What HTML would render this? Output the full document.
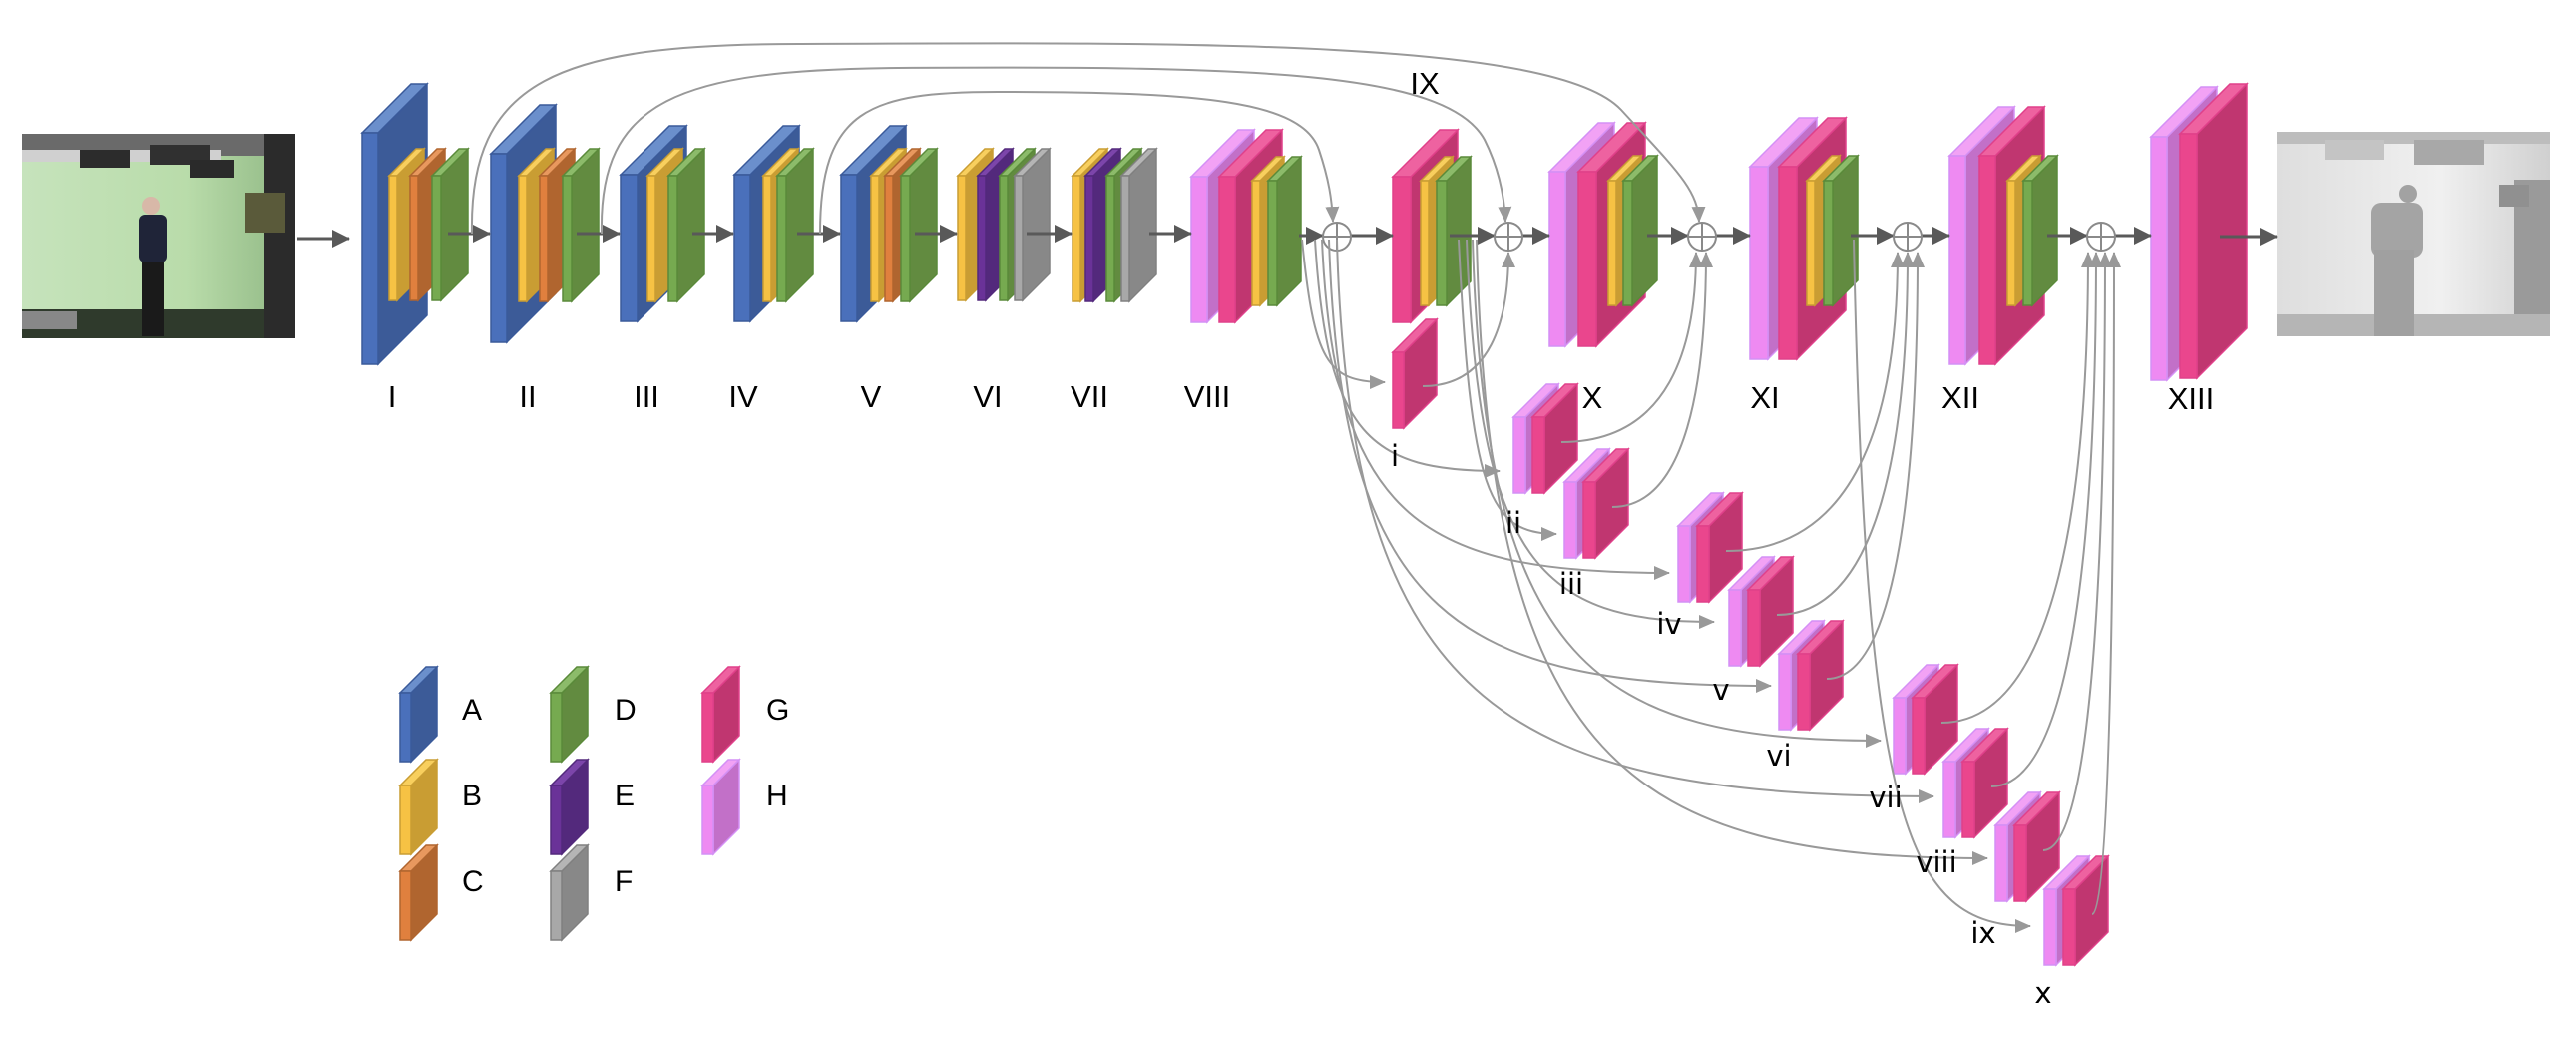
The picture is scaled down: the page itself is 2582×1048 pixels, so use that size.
<!DOCTYPE html>
<html><head><meta charset="utf-8">
<style>
html,body{margin:0;padding:0;background:#fff;}
svg{display:block;}
.L{font-family:"Liberation Sans Narrow","Liberation Sans",sans-serif;font-size:31px;fill:#000;text-anchor:middle;}
.s{font-family:"DejaVu Sans","Liberation Sans",sans-serif;font-size:29px;fill:#000;text-anchor:middle;}
.g{font-family:"Liberation Sans",sans-serif;font-size:30px;fill:#000;}
</style></head>
<body>
<svg id="sv" width="2582" height="1048" viewBox="0 0 2582 1048" xmlns="http://www.w3.org/2000/svg">
<defs>
<marker id="ga" markerUnits="userSpaceOnUse" markerWidth="16" markerHeight="14" refX="15" refY="7" orient="auto"><path d="M0,0 L16,7 L0,14 Z" fill="#999"/></marker>
<marker id="da" markerUnits="userSpaceOnUse" markerWidth="18" markerHeight="18" refX="17" refY="9" orient="auto"><path d="M0,0 L18,9 L0,18 Z" fill="#595959"/></marker>
<linearGradient id="outg" x1="0" y1="0" x2="1" y2="0"><stop offset="0" stop-color="#dedede"/><stop offset="0.6" stop-color="#f0f0f0"/><stop offset="1" stop-color="#d0d0d0"/></linearGradient>
<linearGradient id="ing" x1="0" y1="0" x2="1" y2="0"><stop offset="0" stop-color="#c6e3bc"/><stop offset="0.6" stop-color="#b9dcaa"/><stop offset="1" stop-color="#8fb783"/></linearGradient>
</defs>

<!-- input image -->
<g>
<rect x="22" y="134" width="274" height="205" fill="url(#ing)"/>
<rect x="22" y="134" width="274" height="22" fill="#6a6a6a"/>
<rect x="22" y="150" width="200" height="12" fill="#d0d0d0"/>
<rect x="80" y="150" width="50" height="18" fill="#2c2c2c"/>
<rect x="150" y="145" width="60" height="20" fill="#303030"/>
<rect x="190" y="160" width="45" height="18" fill="#2a2a2a"/>
<rect x="22" y="310" width="274" height="29" fill="#2f3a2c"/>
<rect x="265" y="134" width="31" height="205" fill="#2b2b2b"/>
<rect x="246" y="193" width="40" height="40" fill="#5a5a3a"/>
<circle cx="151" cy="206" r="9" fill="#d8b8a8"/>
<rect x="139" y="215" width="28" height="48" rx="6" fill="#1f2438"/>
<rect x="142" y="262" width="22" height="75" fill="#1a1a1a"/>
<rect x="22" y="312" width="55" height="18" fill="#888"/>
</g>
<!-- output image -->
<g>
<rect x="2282" y="132" width="274" height="205" fill="url(#outg)"/>
<rect x="2282" y="132" width="274" height="12" fill="#bdbdbd"/>
<rect x="2330" y="140" width="60" height="20" fill="#c4c4c4"/>
<rect x="2420" y="140" width="70" height="25" fill="#a8a8a8"/>
<rect x="2520" y="180" width="36" height="157" fill="#9a9a9a"/>
<rect x="2505" y="185" width="30" height="22" fill="#909090"/>
<rect x="2282" y="315" width="274" height="22" fill="#b5b5b5"/>
<circle cx="2414" cy="194" r="9" fill="#a2a2a2"/>
<rect x="2377" y="203" width="52" height="55" rx="10" fill="#a4a4a4"/>
<rect x="2380" y="250" width="40" height="87" fill="#a0a0a0"/>
</g>

<g id="shapes"></g>

<!-- main arrows -->
<g stroke="#595959" stroke-width="3" fill="none" marker-end="url(#da)">
<line x1="298" y1="239" x2="350" y2="239"/>
<line x1="449" y1="234" x2="491" y2="234"/>
<line x1="578" y1="234" x2="621" y2="234"/>
<line x1="694" y1="234" x2="735" y2="234"/>
<line x1="799" y1="234" x2="842" y2="234"/>
<line x1="917" y1="234" x2="959" y2="234"/>
<line x1="1029" y1="234" x2="1074" y2="234"/>
<line x1="1152" y1="234" x2="1194" y2="234"/>
<line x1="1302" y1="236" x2="1326" y2="236"/>
<line x1="1354" y1="236" x2="1396" y2="236"/>
<line x1="1453" y1="236" x2="1498" y2="236"/>
<line x1="1526" y1="236" x2="1553" y2="236"/>
<line x1="1651" y1="236" x2="1692" y2="236"/>
<line x1="1720" y1="236" x2="1754" y2="236"/>
<line x1="1855" y1="236" x2="1898" y2="236"/>
<line x1="1926" y1="236" x2="1954" y2="236"/>
<line x1="2052" y1="236" x2="2092" y2="236"/>
<line x1="2120" y1="236" x2="2156" y2="236"/>
<line x1="2225" y1="237" x2="2282" y2="237"/>
</g>

<!-- circles -->
<g stroke="#8a8a8a" stroke-width="2" fill="#fff">
<circle cx="1340" cy="237" r="14"/><path d="M1326,237H1354M1340,223V251"/>
<circle cx="1512" cy="237" r="14"/><path d="M1498,237H1526M1512,223V251"/>
<circle cx="1706" cy="237" r="14"/><path d="M1692,237H1720M1706,223V251"/>
<circle cx="1912" cy="237" r="14"/><path d="M1898,237H1926M1912,223V251"/>
<circle cx="2106" cy="237" r="14"/><path d="M2092,237H2120M2106,223V251"/>
</g>

<!-- skip curves -->
<g stroke="#999" stroke-width="2" fill="none" marker-end="url(#ga)">
<path d="M473,234 C470,80 560,44 800,44 C1200,42 1560,40 1625,110 C1680,170 1702,190 1703,222"/>
<path d="M603,234 C600,100 680,70 900,68 C1250,66 1450,70 1488,140 C1503,170 1508,200 1509,222"/>
<path d="M822,234 C822,110 870,92 1000,92 C1200,92 1305,100 1322,150 C1332,180 1335,200 1336,222"/>
</g>
<g id="curves" stroke="#999" stroke-width="2" fill="none"></g>

<!-- labels -->
<g class="L">
<text x="393" y="408">I</text><text x="529" y="408">II</text><text x="648" y="408">III</text>
<text x="745" y="408">IV</text><text x="873" y="408">V</text><text x="990" y="408">VI</text>
<text x="1092" y="408">VII</text><text x="1210" y="408">VIII</text>
<text x="1428" y="94">IX</text><text x="1596" y="409">X</text><text x="1769" y="409">XI</text>
<text x="1965" y="409">XII</text><text x="2196" y="410">XIII</text>
</g>
<g class="s">
<text x="1398" y="467">i</text><text x="1517" y="534">ii</text><text x="1575" y="595">iii</text>
<text x="1673" y="635">iv</text><text x="1725" y="701">v</text><text x="1783" y="767">vi</text>
<text x="1890" y="809">vii</text><text x="1941" y="874">viii</text><text x="1988" y="945">ix</text>
<text x="2048" y="1005">x</text>
</g>
<g class="g">
<text x="463" y="721">A</text><text x="463" y="807">B</text><text x="463" y="893">C</text>
<text x="616" y="721">D</text><text x="616" y="807">E</text><text x="616" y="893">F</text>
<text x="768" y="721">G</text><text x="768" y="807">H</text>
</g>
</svg>
<script>
var C={
 A:["#4a70bb","#3c5b98","#6b8fcc","#3a5a9a"],
 B:["#f6c244","#c99d33","#f8cf5e","#c99d33"],
 C:["#e0803e","#b0652f","#e8985e","#b0652f"],
 D:["#76aa50","#628b40","#8cbb6a","#5a8a3a"],
 E:["#6a3298","#53297c","#7c45aa","#53297c"],
 F:["#a8a8a8","#888888","#b5b5b5","#808080"],
 G:["#ea468d","#c03670","#ee62a0","#e0408a"],
 H:["#ee8af2","#c270c8","#f2a2f5","#d490f5"]};
var NS="http://www.w3.org/2000/svg",sh=document.getElementById("shapes"),cv=document.getElementById("curves");
function el(p,t,a){var e=document.createElementNS(NS,t);for(var k in a)e.setAttribute(k,a[k]);p.appendChild(e);return e;}
function S(c,x,y,w,h,d){var k=C[c];
 el(sh,"polygon",{points:[x+w,y,x+w+d,y-d,x+w+d,y+h-d,x+w,y+h].join(","),fill:k[1],stroke:k[3],"stroke-width":1.5});
 el(sh,"polygon",{points:[x,y,x+d,y-d,x+w+d,y-d,x+w,y].join(","),fill:k[2],stroke:k[3],"stroke-width":1.5});
 el(sh,"rect",{x:x,y:y,width:w,height:h,fill:k[0],stroke:k[3],"stroke-width":1.5});}
function T(list,y,h,d){list.forEach(function(a){S(a[0],a[1],y,a[2]||8,h,d);});}
S("A",363,133,16,232,49);T([["B",390],["C",411],["D",433,9]],176,125,27);
S("A",492,154,16,189,49);T([["B",520],["C",541],["D",564,9]],176,126,27);
S("A",622,175,17,147,49);T([["B",649],["D",670,9]],176,126,27);
S("A",736,175,16,147,49);T([["B",765],["D",779,9]],176,126,27);
S("A",843,175,16,147,49);T([["B",873],["C",887],["D",903,9]],176,126,27);
T([["B",960],["E",980],["D",1002],["F",1017]],176,125,27);
T([["B",1075],["E",1088],["D",1109],["F",1124]],176,126,27);
S("H",1194,177,16,146,47);S("G",1222,177,16,146,47);T([["B",1255],["D",1271,9]],181,125,24);
S("G",1396,177,18,146,47);T([["B",1424],["D",1440,10]],181,125,24);
S("H",1553,172,16,175,49);S("G",1582,172,18,175,49);T([["B",1612],["D",1627,9]],181,125,25);
S("H",1754,167,18,193,49);S("G",1783,167,18,193,49);T([["B",1811],["D",1828,9]],181,125,25);
S("H",1954,156,16,209,49);S("G",1984,156,16,209,49);T([["B",2012],["D",2028,9]],181,125,25);
S("H",2156,137,16,244,50);S("G",2185,134,17,245,50);
S("G",1396,353,11,76,33);
var P=[[1517,418],[1568,483],[1682,527],[1733,591],[1783,655],[1898,699],[1948,763],[2000,827],[2049,891]];
P.forEach(function(p){S("H",p[0],p[1],12,76,33);S("G",p[0]+19,p[1],12,76,33);});
[["A",401,694],["B",401,787],["C",401,873],["D",552,694],["E",552,787],["F",552,873],["G",704,694],["H",704,787]].forEach(function(a){S(a[0],a[1],a[2],11,69,26);});
function dn(sx,tx,ty){var sy=240;el(cv,"path",{d:"M"+sx+","+sy+" C"+(sx+12)+","+(sy+(ty-sy)*0.85)+" "+(sx+(tx-sx)*0.3)+","+ty+" "+tx+","+ty,"marker-end":"url(#ga)"});}
dn(1305,1388,383);
var T2=[[1503,472],[1560,535],[1673,574],[1718,623],[1775,687],[1885,742],[1938,798],[1992,860],[2035,928]];
var src=[1318,1462,1325,1470,1332,1476,1340,1480,1858];
T2.forEach(function(t,i){dn(src[i],t[0],t[1]);});
function up(px,py,tx){var ey=253;el(cv,"path",{d:"M"+px+","+py+" C"+(px+(tx-px)*0.8)+","+py+" "+tx+","+(py-(py-ey)*0.5)+" "+tx+","+ey,"marker-end":"url(#ga)"});}
up(1426,387,1512);
var tg=[1700,1710,1902,1912,1922,2093,2101,2110,2119];
P.forEach(function(p,i){up(p[0]+48,p[1]+25,tg[i]);});
</script>
</body></html>
